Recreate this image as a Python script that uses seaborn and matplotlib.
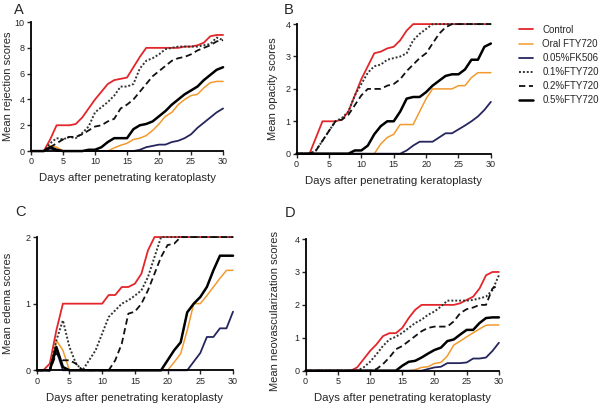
import matplotlib
matplotlib.use('Agg')
import matplotlib.pyplot as plt
import seaborn as sns

days = list(range(31))
groups = ['Control', 'Oral FTY720', '0.05%FK506', '0.1%FTY720', '0.2%FTY720', '0.5%FTY720']

# A - rejection
rej_control = [0, 0, 0, 0.9, 2.0, 2.0, 2.0, 2.1, 2.6, 3.3, 4.0, 4.6, 5.2, 5.5, 5.6, 5.7, 6.5, 7.3, 8.0, 8.0,
               8.0, 8.0, 8.0, 8.0, 8.1, 8.1, 8.2, 8.4, 8.9, 9.0, 9.0]
rej_oral = [0, 0, 0, 0.4, 0.3, 0, 0, 0, 0, 0, 0, 0, 0, 0.25, 0.45, 0.6, 0.9, 1.0, 1.2, 1.6,
            2.1, 2.7, 3.0, 3.6, 4.0, 4.3, 4.4, 4.9, 5.3, 5.4, 5.4]
rej_fk = [0, 0, 0, 0.2, 0, 0, 0, 0, 0, 0, 0, 0, 0, 0, 0, 0, 0, 0.1, 0.3, 0.4,
          0.5, 0.5, 0.7, 0.8, 1.0, 1.3, 1.8, 2.2, 2.6, 3.0, 3.3]
rej_01 = [0, 0, 0, 0.6, 1.0, 0.9, 1.1, 1.0, 1.4, 1.9, 3.0, 3.4, 3.8, 4.3, 5.0, 5.0, 5.2, 6.4, 7.0, 7.2,
          7.5, 7.9, 8.0, 8.1, 8.1, 8.1, 8.1, 8.2, 8.3, 8.8, 8.6]
rej_02 = [0, 0, 0, 0.3, 0.6, 0.9, 1.1, 1.1, 1.3, 1.6, 1.9, 2.0, 2.3, 2.5, 3.3, 3.6, 4.0, 4.6, 5.2, 5.8,
          6.2, 6.6, 7.0, 7.2, 7.3, 7.5, 7.8, 8.0, 8.2, 8.5, 8.6]
rej_05 = [0, 0, 0, 0.3, 0.1, 0, 0, 0, 0, 0.1, 0.1, 0.3, 0.7, 1.0, 1.0, 1.0, 1.7, 2.0, 2.1, 2.3,
          2.7, 3.1, 3.6, 4.0, 4.4, 4.7, 5.0, 5.5, 5.9, 6.3, 6.5]

# B - opacity
op_control = [0, 0, 0, 0.5, 1.0, 1.0, 1.0, 1.05, 1.3, 1.8, 2.3, 2.7, 3.1, 3.15, 3.25, 3.3, 3.5, 3.8, 4, 4,
              4, 4, 4, 4, 4, 4, 4, 4, 4, 4, 4]
op_oral = [0, 0, 0, 0, 0, 0, 0, 0, 0, 0, 0, 0, 0, 0.3, 0.5, 0.6, 0.9, 0.9, 0.9, 1.3,
           1.7, 2.0, 2.0, 2.0, 2.0, 2.1, 2.1, 2.35, 2.5, 2.5, 2.5]
op_fk = [0, 0, 0, 0, 0, 0, 0, 0, 0, 0, 0, 0, 0, 0, 0, 0, 0, 0.1, 0.25, 0.37,
         0.37, 0.37, 0.5, 0.63, 0.63, 0.75, 0.87, 1.0, 1.15, 1.35, 1.6]
op_01 = [0, 0, 0, 0.1, 0.4, 0.7, 1.0, 1.1, 1.3, 1.8, 2.15, 2.5, 2.7, 2.75, 2.9, 2.95, 3.0, 3.1, 3.5, 3.7,
         3.85, 4, 4, 4, 4, 4, 4, 4, 4, 4, 4]
op_02 = [0, 0, 0, 0.1, 0.4, 0.7, 1.0, 1.05, 1.2, 1.5, 1.8, 2.0, 2.0, 2.0, 2.1, 2.15, 2.3, 2.55, 2.75, 2.95,
         3.1, 3.4, 3.7, 3.9, 4, 4, 4, 4, 4, 4, 4]
op_05 = [0, 0, 0, 0, 0, 0, 0, 0, 0, 0.1, 0.1, 0.25, 0.6, 0.85, 1.0, 1.0, 1.3, 1.7, 1.75, 1.75,
         1.9, 2.1, 2.25, 2.4, 2.45, 2.45, 2.6, 2.9, 2.9, 3.3, 3.4]

# C - edema
ed_control = [0, 0, 0.1, 0.6, 1.0, 1.0, 1.0, 1.0, 1.0, 1.0, 1.0, 1.13, 1.13, 1.25, 1.25, 1.3, 1.45, 1.8, 2.0, 2.0,
              2.0, 2.0, 2.0, 2.0, 2.0, 2.0, 2.0, 2.0, 2.0, 2.0, 2.0]
ed_oral = [0, 0, 0, 0.45, 0.3, 0, 0, 0, 0, 0, 0, 0, 0, 0, 0, 0, 0, 0, 0, 0,
           0, 0.12, 0.25, 0.6, 1.0, 1.0, 1.12, 1.25, 1.38, 1.5, 1.5]
ed_fk = [0, 0, 0, 0.3, 0, 0, 0, 0, 0, 0, 0, 0, 0, 0, 0, 0, 0, 0, 0, 0,
         0, 0, 0, 0, 0.13, 0.26, 0.5, 0.5, 0.63, 0.63, 0.88]
ed_01 = [0, 0, 0, 0.45, 0.75, 0.35, 0.1, 0, 0.15, 0.3, 0.55, 0.8, 0.9, 1.0, 1.05, 1.12, 1.2, 1.4, 1.7, 2.0,
         2.0, 2.0, 2.0, 2.0, 2.0, 2.0, 2.0, 2.0, 2.0, 2.0, 2.0]
ed_02 = [0, 0, 0, 0.25, 0.15, 0.15, 0.1, 0, 0, 0, 0, 0, 0.15, 0.4, 0.85, 0.88, 1.0, 1.2, 1.45, 1.7,
         1.88, 1.9, 2.0, 2.0, 2.0, 2.0, 2.0, 2.0, 2.0, 2.0, 2.0]
ed_05 = [0, 0, 0, 0.35, 0.05, 0, 0, 0, 0, 0, 0, 0, 0, 0, 0, 0, 0, 0, 0, 0,
         0.15, 0.3, 0.42, 0.87, 1.0, 1.1, 1.25, 1.5, 1.72, 1.72, 1.72]

# D - neovascularization
neo_control = [0, 0, 0, 0, 0, 0, 0, 0, 0.1, 0.35, 0.6, 0.8, 1.05, 1.14, 1.14, 1.3, 1.6, 1.85, 2.0, 2.0,
               2.0, 2.0, 2.0, 2.0, 2.05, 2.15, 2.25, 2.5, 2.9, 3.0, 3.0]
neo_oral = [0, 0, 0, 0, 0, 0, 0, 0, 0, 0, 0, 0, 0, 0, 0, 0, 0, 0.03, 0.1, 0.12,
            0.22, 0.25, 0.45, 0.78, 0.9, 1.03, 1.15, 1.27, 1.38, 1.39, 1.39]
neo_fk = [0, 0, 0, 0, 0, 0, 0, 0, 0, 0, 0, 0, 0, 0, 0, 0, 0, 0, 0, 0.05,
          0.1, 0.12, 0.23, 0.23, 0.23, 0.25, 0.37, 0.37, 0.4, 0.6, 0.85]
neo_01 = [0, 0, 0, 0, 0, 0, 0, 0, 0, 0.1, 0.27, 0.5, 0.75, 0.95, 1.03, 1.15, 1.3, 1.45, 1.55, 1.7,
          1.8, 1.95, 2.13, 2.13, 2.13, 2.13, 2.15, 2.2, 2.25, 2.45, 2.9]
neo_02 = [0, 0, 0, 0, 0, 0, 0, 0, 0, 0, 0, 0.05, 0.2, 0.4, 0.65, 0.75, 0.9, 1.05, 1.2, 1.3,
          1.34, 1.34, 1.34, 1.5, 1.75, 1.87, 1.92, 2.0, 2.0, 2.5, 2.6]
neo_05 = [0, 0, 0, 0, 0, 0, 0, 0, 0, 0, 0, 0, 0, 0, 0, 0.15, 0.27, 0.3, 0.4, 0.52,
          0.63, 0.7, 0.9, 0.95, 1.1, 1.24, 1.24, 1.45, 1.6, 1.62, 1.62]

sns.set_style('ticks')
plt.rcParams['font.family'] = ['Liberation Sans', 'DejaVu Sans']

colors = ['#e3262b', '#f29a2e', '#26265e', '#333333', '#111111', '#000000']
styles = ['-', '-', '-', (0, (1, 1)), (0, (3.5, 2)), '-']
widths = [1.3, 1.1, 1.3, 1.4, 1.3, 1.8]

fig = plt.figure(figsize=(6.04, 4.05), dpi=100)
panels = [
    ('A', [0.0513, 0.627, 0.318, 0.3185], [rej_control, rej_oral, rej_fk, rej_01, rej_02, rej_05],
     'Mean rejection scores', 10, [0, 2, 4, 6, 8, 10], (14, 10), -0.094),
    ('B', [0.491, 0.6205, 0.3217, 0.320], [op_control, op_oral, op_fk, op_01, op_02, op_05],
     'Mean opacity scores', 4, [0, 1, 2, 3, 4], (284, 10), -0.096),
    ('C', [0.0608, 0.0857, 0.325, 0.329], [ed_control, ed_oral, ed_fk, ed_01, ed_02, ed_05],
     'Mean edema scores', 2, [0, 1, 2], (15, 212), -0.122),
    ('D', [0.506, 0.0847, 0.32, 0.325], [neo_control, neo_oral, neo_fk, neo_01, neo_02, neo_05],
     'Mean neovascularization scores', 4, [0, 1, 2, 3, 4], (285, 213), -0.133),
]

for letter, pos, series, ylab, ymax, yticks, lpos, ylx in panels:
    ax = fig.add_axes(pos)
    for g, vals, c, ls, lw in zip(groups, series, colors, styles, widths):
        sns.lineplot(x=days, y=vals, ax=ax, color=c, linestyle=ls, linewidth=lw,
                     label=g, legend=False, clip_on=False)
    ax.set_xlim(0, 30)
    ax.set_ylim(0, ymax)
    ax.set_xticks([0, 5, 10, 15, 20, 25, 30])
    ax.set_yticks(yticks)
    ax.tick_params(labelsize=6.5, length=3, width=1, pad=1.5)
    ax.set_xlabel('Days after penetrating keratoplasty', fontsize=8.2)
    ax.set_ylabel(ylab, fontsize=8)
    ax.xaxis.set_label_coords(0.5, -0.17)
    ax.yaxis.set_label_coords(ylx, 0.5 if letter != 'D' else 0.45)
    for s in ['left', 'bottom']:
        ax.spines[s].set_linewidth(1.3)
        ax.spines[s].set_color('black')
    sns.despine(ax=ax)
    fig.text(lpos[0] / 604, 1 - lpos[1] / 405, letter, fontsize=10.5, ha='left', va='center')
    if letter == 'B':
        handles, labels = ax.get_legend_handles_labels()

fig.legend(handles, labels, loc='upper left', bbox_to_anchor=(515 / 604, 1 - 21 / 405),
           frameon=False, fontsize=7, handlelength=1.5, handletextpad=0.9, labelspacing=0.42,
           borderaxespad=0)

plt.savefig('out.png', dpi=100)
